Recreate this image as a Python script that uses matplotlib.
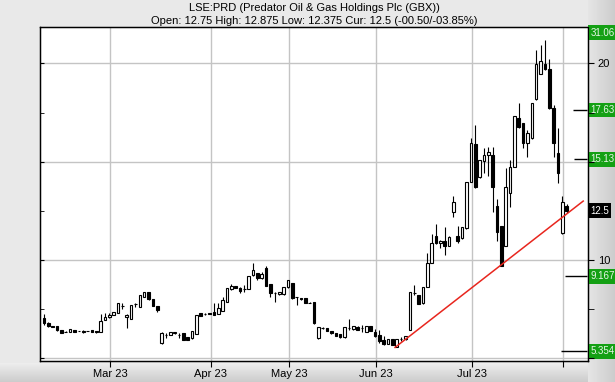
import matplotlib
matplotlib.use('Agg')
import matplotlib.pyplot as plt
import matplotlib.transforms as mtransforms
import numpy as np
import pandas as pd

plt.rcParams['font.family'] = ['Liberation Sans', 'DejaVu Sans']

title = 'LSE:PRD (Predator Oil & Gas Holdings Plc (GBX))'
subtitle = 'Open: 12.75 High: 12.875 Low: 12.375 Cur: 12.5 (-00.50/-03.85%)'

# trading days 8 Feb - 2 Aug 2023 (UK bank holidays dropped)
holidays = ['2023-04-07', '2023-04-10', '2023-05-01', '2023-05-08', '2023-05-29']
dates = pd.bdate_range('2023-02-08', '2023-08-02').drop(pd.to_datetime(holidays))

opens = [7.04, 6.81, 6.63, 6.64, 6.44, 6.35, 6.34, 6.44, 6.41, 6.42,
         6.41, 6.44, 6.39, 6.35, 6.95, 7.09, 7.20, 7.32, 7.67, 7.09,
         6.99, 7.76, 7.60, 8.13, 8.38, 8.00, 7.66, 5.76, 6.20, 6.19,
         6.27, 6.20, 6.27, 6.07, 6.02, 6.24, 7.32, 7.27, 7.29, 7.37,
         7.26, 7.41, 7.88, 8.51, 8.68, 8.56, 8.55, 8.55, 9.22, 9.35,
         9.07, 9.61, 8.76, 8.32, 8.26, 8.26, 8.61, 8.85, 8.12, 8.08,
         8.05, 7.84, 7.88, 6.02, 6.57, 6.54, 6.41, 6.27, 6.22, 6.07,
         6.55, 6.48, 6.62, 6.54, 6.35, 6.66, 6.35, 6.19, 5.93, 5.73,
         5.97, 5.59, 5.98, 5.97, 6.44, 8.32, 8.22, 7.80, 8.64, 9.86,
         11.22, 10.85, 10.97, 10.71, 12.46, 11.22, 11.10, 11.61, 13.98, 15.90,
         14.20, 15.03, 15.34, 15.34, 12.74, 11.73, 10.73, 13.42, 14.74, 17.20,
         16.95, 15.93, 16.19, 18.17, 19.45, 19.96, 19.69, 17.71, 15.45, 11.36,
         12.75]
highs = [7.24, 6.85, 6.65, 6.66, 6.46, 6.37, 6.50, 6.45, 6.42, 6.44,
         6.42, 6.45, 6.40, 7.26, 7.29, 7.29, 7.38, 7.81, 7.80, 7.25,
         7.72, 7.83, 8.23, 8.40, 8.39, 8.01, 7.67, 6.35, 6.29, 6.36,
         6.36, 6.27, 6.28, 6.08, 6.42, 7.21, 7.33, 7.30, 7.30, 7.80,
         7.80, 8.12, 8.59, 8.76, 8.69, 8.64, 8.71, 9.20, 9.83, 9.36,
         9.40, 9.69, 8.77, 8.39, 8.37, 8.65, 8.99, 8.86, 8.13, 8.09,
         8.06, 7.85, 7.89, 6.62, 6.61, 6.55, 6.42, 6.28, 6.23, 6.59,
         6.99, 6.65, 6.63, 6.68, 6.67, 6.67, 6.48, 6.44, 6.13, 5.98,
         5.98, 5.98, 6.07, 6.15, 8.40, 8.73, 8.23, 8.65, 10.34, 11.32,
         11.83, 11.00, 11.69, 11.20, 13.25, 11.73, 11.67, 13.99, 16.19, 16.86,
         15.09, 15.68, 15.75, 15.76, 13.13, 11.74, 14.66, 15.08, 17.33, 18.00,
         16.96, 16.61, 17.98, 20.68, 20.93, 21.18, 20.20, 17.90, 16.70, 13.25,
         12.875]
lows = [6.70, 6.60, 6.60, 6.42, 6.27, 6.32, 6.32, 6.34, 6.40, 6.29,
        6.40, 6.34, 6.31, 6.34, 6.94, 7.08, 7.19, 7.31, 7.49, 6.53,
        6.98, 7.63, 7.59, 8.12, 7.99, 7.65, 7.36, 5.75, 6.04, 6.18,
        6.26, 6.03, 5.92, 5.92, 6.01, 6.23, 7.14, 7.22, 7.28, 7.19,
        7.25, 7.40, 7.87, 8.50, 8.57, 8.34, 8.38, 8.54, 9.21, 8.98,
        9.06, 8.67, 8.12, 7.88, 8.25, 8.25, 8.60, 8.04, 7.71, 7.99,
        7.82, 7.82, 6.77, 6.01, 6.48, 6.38, 6.26, 6.13, 6.06, 6.06,
        6.47, 6.47, 6.46, 6.36, 6.34, 6.40, 6.07, 5.76, 5.68, 5.72,
        5.67, 5.58, 5.90, 5.96, 6.43, 8.22, 7.75, 7.79, 8.63, 9.85,
        10.84, 10.59, 10.25, 10.70, 12.20, 10.85, 11.09, 11.60, 13.97, 13.65,
        14.19, 14.41, 14.27, 12.46, 10.98, 9.70, 10.72, 12.71, 14.73, 16.69,
        15.68, 15.22, 16.18, 18.16, 19.44, 19.68, 17.70, 15.22, 13.93, 11.35,
        12.375]
closes = [6.78, 6.63, 6.62, 6.44, 6.30, 6.34, 6.48, 6.35, 6.40, 6.34,
          6.40, 6.35, 6.32, 6.91, 7.12, 7.20, 7.37, 7.80, 7.65, 7.20,
          7.71, 7.75, 8.22, 8.39, 8.00, 7.66, 7.46, 6.27, 6.19, 6.35,
          6.35, 6.19, 5.93, 5.93, 6.41, 7.20, 7.15, 7.26, 7.28, 7.20,
          7.56, 7.97, 8.58, 8.68, 8.58, 8.42, 8.54, 9.19, 9.49, 9.07,
          9.27, 8.68, 8.34, 8.31, 8.36, 8.64, 8.98, 8.05, 8.11, 8.00,
          7.83, 7.83, 6.78, 6.61, 6.56, 6.39, 6.27, 6.14, 6.07, 6.58,
          6.54, 6.64, 6.47, 6.53, 6.66, 6.41, 6.15, 5.90, 5.73, 5.97,
          5.68, 5.97, 5.97, 6.14, 8.39, 8.31, 7.76, 8.64, 9.86, 10.88,
          10.85, 10.98, 10.71, 11.19, 12.96, 10.98, 11.66, 13.98, 15.93, 13.73,
          15.08, 15.34, 15.51, 13.70, 11.44, 9.71, 13.70, 14.74, 17.32, 16.75,
          15.93, 16.44, 17.97, 19.96, 20.13, 19.69, 17.71, 15.93, 14.44, 12.96,
          12.50]

# support trend line (trading-day index, price)
trend_x = [80.6, 123.8]
trend_y = [5.56, 13.00]

# target levels shown on the right scale
target_levels = [17.63, 15.13, 9.167, 5.354]
target_labels = ['17.63', '15.13', '9.167', '5.354']
target_start = [121.4, 121.7, 119.7, 118.6]
top_target = '31.06'
current_label = '12.5'
current_price = 12.5

month_labels = ['Mar 23', 'Apr 23', 'May 23', 'Jun 23', 'Jul 23', '']

x = np.arange(len(dates))
o = np.array(opens)
c = np.array(closes)
up = c >= o

idx = pd.Series(x, index=dates)
firsts = idx.groupby(dates.to_period('M')).first().values[1:]
month_pos = firsts + 0.25

fig = plt.figure(figsize=(6.15, 3.82), dpi=100, facecolor='#e9e9e9')

# darker band under the plot and right-hand scale strip
band = fig.add_axes([0, 0, 1, 19 / 382], zorder=-5)
band.imshow(np.linspace(0.93, 0.80, 50).reshape(-1, 1), cmap='gray',
            vmin=0, vmax=1, aspect='auto', extent=[0, 1, 0, 1])
band.axis('off')
strip = fig.add_axes([588 / 615, 0, 27 / 615, 1], zorder=-4)
strip.imshow(np.linspace(0.90, 0.80, 50).reshape(1, -1), cmap='gray',
             vmin=0, vmax=1, aspect='auto', extent=[0, 1, 0, 1])
strip.axis('off')

ax = fig.add_axes([40 / 615, 21 / 382, 548 / 615, 334 / 382])
ax.set_facecolor('white')
ax.set_xlim(-0.92, 124.9)
ax.set_ylim(4.87, 21.85)

ax.vlines(x, lows, highs, color='black', lw=0.8, zorder=3)
ax.bar(x[up], (c - o)[up], bottom=o[up], width=0.6, facecolor='white',
       edgecolor='black', lw=0.8, zorder=4)
ax.bar(x[~up], (c - o)[~up], bottom=o[~up], width=0.6, facecolor='black',
       edgecolor='black', lw=0.8, zorder=4)

ax.plot(trend_x, trend_y, color='#e8261e', lw=1.1, zorder=5)
ax.hlines(target_levels, target_start, 124.7, color='black', lw=1, zorder=5)

ax.set_xticks(month_pos)
ax.set_xticklabels(month_labels, fontsize=8)
ax.set_yticks([5, 10, 15, 20])
ax.set_yticks([7.5, 12.5, 17.5], minor=True)
ax.tick_params(axis='x', direction='out', length=4, pad=2)
ax.tick_params(axis='y', which='both', direction='in', length=3,
               labelleft=False)
ax.grid(True, which='major', color='#c4c4c4', lw=1)
for s in ax.spines.values():
    s.set_linewidth(1)

ax2 = ax.twinx()
ax2.set_ylim(ax.get_ylim())
ax2.set_yticks([5, 10, 15, 20])
ax2.set_yticks([7.5, 12.5, 17.5], minor=True)
ax2.tick_params(axis='y', which='both', direction='out', length=4, pad=3,
                labelsize=8)
ax2.set_yticklabels(['', '10', '', '20'])

tr = mtransforms.blended_transform_factory(ax.transAxes, ax.transData)
box_kw = dict(ha='left', va='center', fontsize=7, zorder=10, clip_on=False,
              transform=tr)
for lvl, lab in zip(target_levels, target_labels):
    ax.text(1.004, lvl, lab, color='#e8f5e8',
            bbox=dict(boxstyle='square,pad=0.25', fc='#14a014', ec='none'),
            **box_kw)
ax.text(1.004, 21.55, top_target, color='#e8f5e8',
        bbox=dict(boxstyle='square,pad=0.25', fc='#14a014', ec='none'),
        **box_kw)
ax.text(1.004, current_price, current_label, color='white',
        bbox=dict(boxstyle='square,pad=0.25', fc='black', ec='none'),
        **box_kw)

fig.text(314 / 615, 1 - 8 / 382, title, ha='center', va='center', fontsize=8)
fig.text(314 / 615, 1 - 21 / 382, subtitle, ha='center', va='center',
         fontsize=8)

fig.savefig('out.png', dpi=100, facecolor=fig.get_facecolor())
